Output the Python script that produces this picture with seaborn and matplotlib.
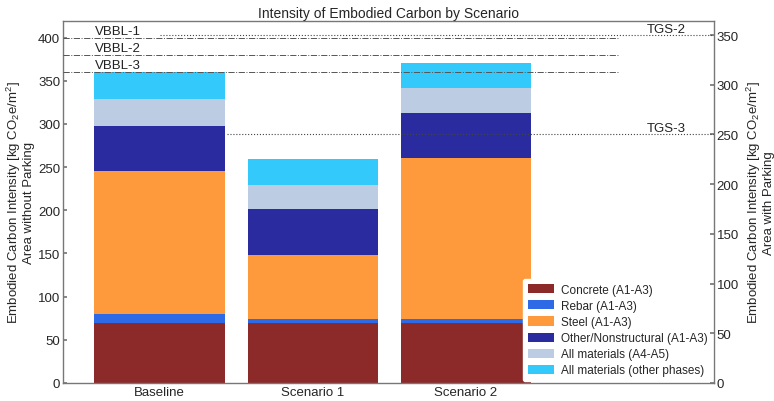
import numpy as np
import pandas as pd
import matplotlib
matplotlib.use("Agg")
import matplotlib.pyplot as plt
from matplotlib.patches import Patch
import seaborn as sns

scenarios = ["Baseline", "Scenario 1", "Scenario 2"]
materials = ["Concrete (A1-A3)", "Rebar (A1-A3)", "Steel (A1-A3)",
             "Other/Nonstructural (A1-A3)", "All materials (A4-A5)",
             "All materials (other phases)"]
concrete = [70, 70, 70]
rebar = [10, 4, 4]
steel = [165, 74, 186]
other = [53, 54, 53]
a4a5 = [31, 27, 28]
other_phases = [31, 30, 30]
colors = ["#8c2a2a", "#2e6ae6", "#ff9a3c", "#2b2ba0", "#bccde3", "#33c9fb"]

vbbl_names = ["VBBL-1", "VBBL-2", "VBBL-3"]
vbbl_values = [400, 380, 360]
tgs_names = ["TGS-2", "TGS-3"]
tgs_values = [350, 250]

data = pd.DataFrame({"Scenario": scenarios, materials[0]: concrete, materials[1]: rebar,
                     materials[2]: steel, materials[3]: other, materials[4]: a4a5,
                     materials[5]: other_phases})
cum = data[materials].cumsum(axis=1)
cum["Scenario"] = scenarios

sns.set_theme(style="white")
plt.rcParams["font.family"] = ["Liberation Sans", "DejaVu Sans"]
plt.rcParams["mathtext.fontset"] = "custom"
plt.rcParams["mathtext.rm"] = "Liberation Sans"
plt.rcParams["mathtext.it"] = "Liberation Sans"

fig = plt.figure(figsize=(7.74, 4.02), dpi=100)
ax = fig.add_axes([0.0814, 0.0448, 0.8411, 0.9002])

# stacked bars: draw the tallest layer first, then each lower one on top
for m, c in zip(materials[::-1], colors[::-1]):
    sns.barplot(data=cum, x="Scenario", y=m, color=c, width=0.85, ax=ax,
                saturation=1, edgecolor="none", linewidth=0)

ax.set_xlim(-0.63, 3.62)
ax.set_ylim(0, 419)
ax.set_xticks([0, 1, 2, 3])
ax.set_xticklabels(scenarios + [""], fontsize=9.5)
ax.set_yticks(np.arange(0, 401, 50))
ax.tick_params(axis="y", labelsize=9.5, direction="in", length=3, color="#777777", pad=2)
ax.tick_params(axis="x", direction="in", length=3, color="#777777", pad=2)
ax.set_xlabel("")
ax.set_ylabel("Embodied Carbon Intensity [kg CO$_2$e/m$^2$]\nArea without Parking",
              fontsize=9.5, labelpad=2, linespacing=1.0)
ax.set_title("Intensity of Embodied Carbon by Scenario", fontsize=10, pad=3)
for s in ax.spines.values():
    s.set_color("#777777")
    s.set_linewidth(1.0)

ax2 = ax.twinx()
ax2.set_ylim(0, 364)
ax2.set_yticks(np.arange(0, 351, 50))
ax2.tick_params(axis="y", labelsize=9.5, direction="in", length=3, color="#777777", pad=2)
ax2.set_ylabel("Embodied Carbon Intensity [kg CO$_2$e/m$^2$]\nArea with Parking",
               fontsize=9.5, labelpad=4, linespacing=1.0, rotation=90)
for s in ax2.spines.values():
    s.set_visible(False)

for name, v in zip(vbbl_names, vbbl_values):
    ax.hlines(v, -0.63, 3.0, colors="#555555", linestyles="-.", linewidth=0.7, zorder=5)
    ax.text(-0.42, v + 1, name, fontsize=9.5, color="#222222", va="bottom", ha="left", zorder=6)

tgs_start = [0.0, 0.44]
for name, v, x0 in zip(tgs_names, tgs_values, tgs_start):
    ax2.hlines(v, x0, 3.62, colors="#444444", linestyles=":", linewidth=0.8, zorder=5)
    ax2.text(3.18, v + 0.5, name, fontsize=9.5, color="#222222", va="bottom", ha="left", zorder=6)

handles = [Patch(facecolor=c, edgecolor="none") for c in colors]
leg = ax.legend(handles, materials, loc="lower right", fontsize=8.5, frameon=True,
                framealpha=1, edgecolor="white", handlelength=2.2, handleheight=0.8,
                labelspacing=0.35, borderaxespad=0.15, handletextpad=0.6)
leg.set_zorder(10)

fig.savefig("out.png", dpi=100)
